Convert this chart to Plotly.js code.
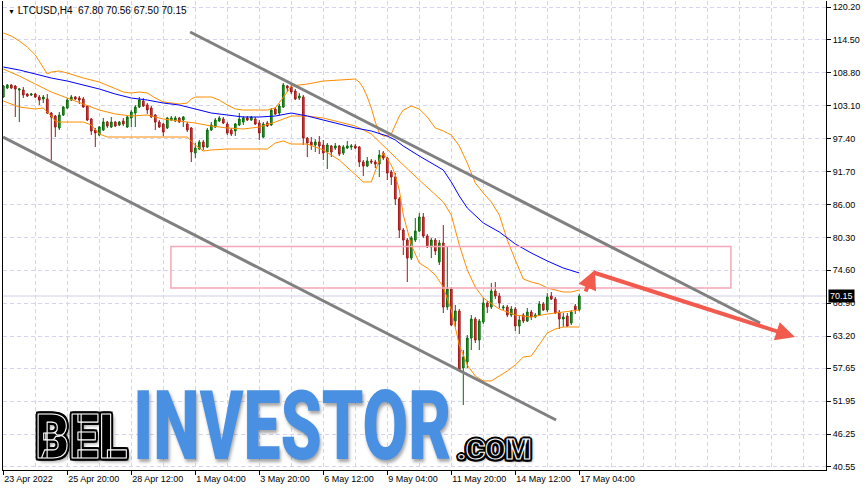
<!DOCTYPE html>
<html><head><meta charset="utf-8">
<script src="https://cdn.plot.ly/plotly-3.0.1.min.js"></script>
<style>html,body{margin:0;padding:0;background:#fff;}#chart{width:866px;height:492px;}</style>
</head><body><div id="chart"></div>
<script>
// ---------- DATA (LTCUSD, H4) ----------
const openP = [104.61,106.17,106.69,106.52,105.83,105.83,105.13,104.96,105.13,104.61,
104.27,104.27,101.84,101.32,99.25,101.50,102.71,104.09,104.61,104.44,
104.27,103.05,100.80,98.90,98.03,98.90,100.28,99.42,100.28,99.77,
100.46,99.42,100.98,101.84,102.88,103.92,103.23,102.71,101.50,100.28,
99.94,99.25,100.63,100.46,100.98,100.63,99.94,99.25,94.92,95.61,
96.82,95.95,98.90,99.42,100.46,100.80,99.94,98.90,98.73,99.77,
100.28,100.98,100.63,100.80,100.11,97.69,100.11,99.77,102.54,101.84,
102.88,106.52,106.35,105.65,104.44,104.61,97.51,96.82,96.30,96.82,
96.30,95.09,96.13,95.78,96.13,94.92,95.78,95.95,96.13,95.95,
93.36,92.67,93.53,93.36,93.01,94.92,94.05,91.63,90.76,86.95,
81.58,79.85,76.73,79.85,81.41,83.83,80.54,78.64,79.85,76.04,
79.33,68.25,71.37,65.83,67.56,57.69,58.73,62.88,66.17,62.54,
65.65,68.94,68.25,71.02,70.15,68.08,68.25,66.86,67.90,64.96,
66.86,65.83,67.38,66.52,66.86,68.77,67.73,70.15,69.63,67.38,
66.17,66.69,65.48,68.40,67.80];
const highP = [106.69,106.86,106.86,106.69,106.17,106.35,105.31,105.31,105.31,104.96,
104.96,105.13,102.02,101.50,102.02,103.05,104.44,104.96,104.79,104.79,
104.61,103.23,100.98,99.25,99.59,100.98,100.46,101.15,100.46,100.46,
100.98,101.32,102.36,103.23,104.61,104.44,103.57,103.05,101.67,100.63,
100.11,101.15,101.32,101.32,101.15,101.32,100.28,99.42,96.65,97.17,
97.17,99.25,100.28,100.98,101.32,101.15,100.28,99.25,100.11,101.84,
101.32,101.32,101.32,101.15,100.63,100.28,100.46,102.71,102.88,103.40,
107.04,106.69,106.69,106.00,105.31,104.96,97.69,97.69,97.34,97.86,
97.17,96.65,96.30,96.65,96.30,96.30,97.00,96.47,96.47,96.13,
93.70,94.22,93.88,93.70,95.44,95.26,94.22,91.97,91.45,87.30,
81.93,80.20,80.54,83.66,84.53,84.53,80.89,80.20,80.20,79.85,
82.45,78.64,71.71,68.60,67.90,60.80,63.40,66.86,66.52,66.17,
69.81,69.29,72.41,72.58,70.67,68.60,68.60,68.42,68.25,66.69,
67.21,68.08,67.73,67.21,69.29,69.11,70.67,70.85,69.98,67.73,
67.21,67.21,67.73,68.77,70.56];
const lowP = [104.44,106.00,106.00,101.15,100.28,104.44,104.61,104.79,104.44,103.23,
103.57,101.67,93.70,97.69,98.90,101.32,102.54,103.92,104.09,103.40,
102.71,100.46,98.03,95.95,97.86,98.73,99.25,99.25,99.42,99.59,
99.59,99.25,99.42,99.42,102.71,102.88,101.67,100.98,98.90,99.25,
97.86,99.07,100.46,100.28,100.11,99.42,98.55,93.36,94.05,95.44,
95.44,95.78,98.73,99.25,100.28,99.94,98.03,97.86,97.86,99.59,
99.77,100.46,100.46,99.77,97.17,97.51,99.42,99.59,101.50,101.50,
102.71,105.48,105.13,104.09,104.09,96.30,94.22,95.44,95.09,94.74,
93.70,92.15,94.22,95.44,94.40,94.57,95.61,95.44,95.61,92.49,
90.93,92.49,93.01,92.32,90.76,93.70,90.24,89.38,85.91,80.20,
77.25,72.58,76.39,79.51,81.24,80.20,78.47,76.73,77.25,75.52,
67.21,67.73,64.96,64.79,56.99,51.28,57.69,60.80,62.02,60.80,
65.31,67.21,67.90,69.63,68.08,67.73,66.52,66.52,64.09,63.57,
65.48,65.65,66.00,66.34,66.69,67.56,67.38,69.46,67.04,64.44,
64.79,64.79,65.13,67.04,67.50];
const closeP = [106.52,106.69,106.17,106.00,106.00,104.96,104.79,105.13,104.61,104.09,
104.61,101.84,101.15,99.42,101.50,102.88,104.09,104.61,104.27,104.09,
102.88,100.63,98.73,98.38,99.42,100.28,99.59,100.28,99.59,100.28,
99.94,101.15,102.02,102.88,104.09,103.05,102.36,101.15,100.28,99.42,
98.55,100.98,100.98,100.98,100.28,101.15,98.90,95.09,95.78,96.82,
95.95,98.90,99.77,100.63,100.98,100.11,98.38,98.21,99.94,100.80,
100.98,100.63,101.15,99.94,98.38,99.94,99.59,102.36,101.67,103.05,
106.69,106.17,105.48,104.27,104.79,97.51,96.65,96.30,96.82,96.13,
94.92,96.30,95.09,96.13,94.74,95.95,96.13,96.13,95.78,93.36,
92.67,93.53,93.36,93.01,94.57,94.05,91.45,90.76,86.95,81.58,
79.85,76.73,80.20,81.41,83.83,80.54,78.64,79.85,77.95,79.33,
68.25,71.37,65.13,67.56,57.34,59.59,62.88,66.17,62.54,65.83,
68.94,68.25,71.02,70.15,68.94,68.25,66.86,67.90,64.96,66.00,
65.83,67.38,66.52,66.86,68.77,67.73,69.98,69.63,67.21,66.17,
66.52,64.96,67.38,67.80,70.15];

// Bollinger bands and moving average (bar index -> price)
const upperBars = [0,2,4,6,8,10,11,12,14,16,20,24,28,30,32,34,36,38,40,44,46,47,48,52,54,56,58,60,64,66,68,69,70,71,72,76,80,84,88,89,90,91,92,93,94,95,96,97,98,99,100,102,104,106,108,110,112,113,114,116,118,120,122,124,126,128,130,132,134,136,138,140,142,144];
const upperBand = [115.70,115.18,114.31,113.27,111.89,109.64,108.60,108.94,109.12,108.77,107.90,107.21,106.00,105.48,105.31,105.48,105.31,104.44,103.75,103.40,103.57,104.27,104.61,104.61,104.09,103.23,102.54,102.36,102.36,102.36,102.71,103.57,104.44,105.48,106.52,106.86,107.38,107.56,107.73,107.21,106.17,104.61,102.71,100.28,98.38,97.86,97.86,98.21,99.77,101.32,102.36,103.05,102.54,101.15,99.25,98.73,98.03,97.17,96.13,93.18,89.72,87.99,86.43,84.18,79.85,76.39,73.10,72.58,72.23,71.54,71.19,70.85,70.85,71.19];
const midBars = [0,4,8,12,16,20,24,28,32,36,40,44,48,52,56,60,64,68,70,72,76,80,84,88,92,96,100,104,108,110,112,114,116,118,120,124,128,132,136,140,144];
const midBand = [109.46,108.25,106.86,105.48,104.44,103.40,102.36,101.67,101.32,101.50,100.80,100.46,100.11,99.59,99.25,99.07,99.42,100.28,100.80,101.32,101.32,100.98,100.28,99.59,98.21,95.44,92.84,90.24,87.64,86.43,84.18,78.99,74.66,71.71,69.81,67.90,66.86,66.52,67.04,67.38,67.73];
const lowerBars = [0,4,8,10,12,13,14,20,22,24,26,36,46,48,50,52,56,66,68,70,72,76,80,84,88,90,92,94,95,97,98,99,100,102,104,106,108,110,112,114,116,118,120,122,124,126,128,130,132,134,136,138,140,144];
const lowerBand = [103.92,102.88,102.54,102.71,101.32,100.46,100.28,100.28,99.77,98.21,97.69,97.69,97.69,96.30,95.26,95.44,95.61,95.61,96.65,97.00,96.47,96.47,95.44,93.70,91.11,89.90,89.90,93.70,94.92,92.84,91.11,88.51,84.18,78.99,75.87,75.00,73.79,71.71,67.73,61.67,58.21,56.30,55.44,55.44,56.30,57.17,58.21,59.59,59.77,61.67,63.75,64.44,64.79,64.79];
const maBars = [0,4,8,12,16,20,24,28,32,36,40,44,48,52,56,60,64,68,72,76,80,84,88,92,96,98,100,104,108,110,112,114,116,120,124,128,132,136,140,144];
const maLine = [109.81,109.29,108.60,107.90,107.38,106.69,106.00,105.13,104.44,104.09,103.57,103.23,102.54,101.84,101.50,101.15,101.15,101.32,101.84,101.32,100.63,99.94,99.25,98.73,97.86,97.17,96.13,94.40,92.84,91.97,89.90,87.47,85.39,82.80,81.24,79.16,77.60,76.22,75.00,74.14];

// axis ticks
const tickBars = [0,16,32,48,64,80,96,112,128,144];
const tickLabels = ['23 Apr 2022','25 Apr 20:00','28 Apr 12:00','1 May 04:00','3 May 20:00','6 May 12:00','9 May 04:00','11 May 20:00','14 May 12:00','17 May 04:00'];
const priceTicks = [120.20,114.50,108.80,103.10,97.40,91.70,86.00,80.30,74.60,68.90,63.20,57.65,51.95,46.25,40.55];
const priceTickText = ['120.20','114.50','108.80','103.10','97.40','91.70','86.00','80.30','74.60','68.90','63.20','57.65','51.95','46.25','40.55'];

// drawn objects (bar index, price)
const channelUpperBars = [46.7, 189.2], channelUpperPrices = [115.87, 65.48];
const channelLowerBars = [-0.075, 138.2], channelLowerPrices = [97.69, 48.68];
const zoneBars = [41.9, 181.9], zonePrices = [71.54, 78.73];
const arrowUpBars = [145.4, 147.9], arrowUpPrices = [70.67, 74.66];
const arrowDownBars = [147.2, 197.9], arrowDownPrices = [74.31, 63.05];
const lastPrice = 70.15;
const headerText = 'LTCUSD,H4&nbsp; 67.80 70.56 67.50 70.15';

// ---------- PLOT ----------
const bars = openP.map((_, i) => i);
const GRID = '#d4d4ee';
const W = 866, H = 492, L = 3, R = 826, T = 1, B = 470;
const px = x => (x - L) / (R - L);
const py = y => (B - y) / (B - T);

const traces = [
  {type:'candlestick', x:bars, open:openP, high:highP, low:lowP, close:closeP,
   increasing:{line:{color:'#0a6b0a', width:1}, fillcolor:'#20a020'},
   decreasing:{line:{color:'#a01818', width:1}, fillcolor:'#e03a3a'},
   whiskerwidth:0, hoverinfo:'skip'},
  {type:'scatter', mode:'lines', x:upperBars, y:upperBand, line:{color:'#ff8c00', width:1}, hoverinfo:'skip'},
  {type:'scatter', mode:'lines', x:midBars, y:midBand, line:{color:'#ff8c00', width:1}, hoverinfo:'skip'},
  {type:'scatter', mode:'lines', x:lowerBars, y:lowerBand, line:{color:'#ff8c00', width:1}, hoverinfo:'skip'},
  {type:'scatter', mode:'lines', x:maBars, y:maLine, line:{color:'#0000ff', width:1}, hoverinfo:'skip'}
];

const annotations = [];
const wmStyle = {};
function addAnn(a, style){ if(style) wmStyle[annotations.length] = style; annotations.push(a); }

addAnn({xref:'paper', yref:'paper', x:px(6), y:py(11), xanchor:'left', yanchor:'middle', showarrow:false,
  text:'<span style="font-size:7px">▼</span> ' + headerText,
  font:{family:'Liberation Sans, DejaVu Sans, sans-serif', size:10, color:'#000'}});
addAnn({xref:'paper', yref:'y', x:px(828), y:lastPrice, xanchor:'left', yanchor:'middle', showarrow:false,
  text:lastPrice.toFixed(2), bgcolor:'#000', borderpad:1,
  font:{family:'Liberation Sans, sans-serif', size:9, color:'#fff'}});
// arrows
addAnn({xref:'x', yref:'y', axref:'x', ayref:'y', x:arrowUpBars[1], y:arrowUpPrices[1], ax:arrowUpBars[0], ay:arrowUpPrices[0],
  text:'', showarrow:true, arrowhead:2, arrowsize:0.95, arrowwidth:4, arrowcolor:'#f25a4e'});
addAnn({xref:'x', yref:'y', axref:'x', ayref:'y', x:arrowDownBars[1], y:arrowDownPrices[1], ax:arrowDownBars[0], ay:arrowDownPrices[0],
  text:'', showarrow:true, arrowhead:2, arrowsize:0.95, arrowwidth:4, arrowcolor:'#f25a4e'});
// watermark (single text per word; outline via stroke + shadows)
const wmFont = 'Roboto, Liberation Sans, Arial, sans-serif';
const ring = r => [[r,0],[-r,0],[0,r],[0,-r],[r*0.75,r*0.75],[-r*0.75,r*0.75],[r*0.75,-r*0.75],[-r*0.75,-r*0.75]]
  .map(([a,b]) => a + 'px ' + b + 'px 0 #000').join(',');
addAnn({xref:'paper', yref:'paper', x:px(81.5), y:py(437), xanchor:'center', yanchor:'middle', showarrow:false,
  text:'BEL', font:{family:wmFont, size:61, weight:900, color:'#000', shadow: ring(2.4) + ',3px 3px 4px rgba(0,0,0,0.35)'}},
  {len:92, stroke:'#fff', sw:1.2});
addAnn({xref:'paper', yref:'paper', x:px(292), y:py(426.5), xanchor:'center', yanchor:'middle', showarrow:false,
  text:'INVESTOR', font:{family:wmFont, size:97, weight:900, color:'#4a90e2', shadow:'2px 3px 4px rgba(0,0,0,0.35)'}},
  {len:318});
addAnn({xref:'paper', yref:'paper', x:px(494), y:py(449.5), xanchor:'center', yanchor:'middle', showarrow:false,
  text:'.COM', font:{family:wmFont, size:27, weight:900, color:'#000', shadow: ring(2) + ',2px 2px 3px rgba(0,0,0,0.35)'}},
  {len:74, stroke:'#fff', sw:1});

const shapes = [
  {type:'line', xref:'paper', yref:'y', x0:0, x1:1, y0:lastPrice, y1:lastPrice, line:{color:'#d0d0ea', width:1}, layer:'below'},
  {type:'rect', xref:'x', yref:'y', x0:zoneBars[0], x1:zoneBars[1], y0:zonePrices[0], y1:zonePrices[1],
   line:{color:'#f6a6b8', width:1.5}, fillcolor:'rgba(0,0,0,0)'},
  {type:'line', xref:'x', yref:'y', x0:channelUpperBars[0], x1:channelUpperBars[1], y0:channelUpperPrices[0], y1:channelUpperPrices[1],
   line:{color:'#808080', width:3}},
  {type:'line', xref:'x', yref:'y', x0:channelLowerBars[0], x1:channelLowerBars[1], y0:channelLowerPrices[0], y1:channelLowerPrices[1],
   line:{color:'#808080', width:3}}
];

const layout = {
  width:W, height:H, margin:{l:L, r:W-R, t:T, b:H-B, pad:0},
  paper_bgcolor:'#fff', plot_bgcolor:'#fff', showlegend:false, boxgap:0.4,
  font:{family:'Liberation Sans, Arial, sans-serif', size:9, color:'#000'},
  xaxis:{type:'linear', range:[-0.075, 205.675], tickmode:'array', tickvals:tickBars, ticktext:tickLabels,
    ticks:'outside', ticklen:4, tickcolor:'#000', showline:true, linecolor:'#000', linewidth:1,
    showgrid:true, gridcolor:GRID, griddash:'4px,3px', zeroline:false, ticklabelposition:'outside right',
    rangeslider:{visible:false}, fixedrange:true,
    minor:{tickmode:'linear', tick0:0, dtick:8, showgrid:true, gridcolor:GRID, griddash:'4px,3px', ticks:''}},
  yaxis:{side:'right', range:[40.025, 121.24], tickmode:'array', tickvals:priceTicks, ticktext:priceTickText,
    ticks:'outside', ticklen:4, tickcolor:'#000', showline:true, mirror:true, linecolor:'#000', linewidth:1,
    showgrid:true, gridcolor:GRID, griddash:'4px,3px', zeroline:false, fixedrange:true},
  shapes, annotations
};

function styleWatermark(gd){
  gd.querySelectorAll('g.annotation').forEach(g => {
    const idx = +g.getAttribute('data-index');
    const cfg = wmStyle[idx]; if(!cfg) return;
    const t = g.querySelector('text.annotation-text'); if(!t) return;
    t.setAttribute('textLength', cfg.len);
    t.setAttribute('lengthAdjust', 'spacingAndGlyphs');
    if(cfg.stroke){ t.style.stroke = cfg.stroke; t.style.strokeWidth = cfg.sw + 'px'; t.style.strokeLinejoin = 'round'; }
    // shrink the (invisible) annotation background box to the condensed text
    const bg = t.parentNode && t.parentNode.querySelector('rect.bg');
    if(bg){
      try {
        const bb = t.getBBox();
        bg.setAttribute('x', bb.x); bg.setAttribute('y', bb.y + bb.height * 0.12);
        bg.setAttribute('width', bb.width); bg.setAttribute('height', bb.height * 0.72);
      } catch(e) {}
    }
  });
}
Plotly.newPlot('chart', traces, layout, {staticPlot:true, displayModeBar:false}).then(styleWatermark);
</script></body></html>
